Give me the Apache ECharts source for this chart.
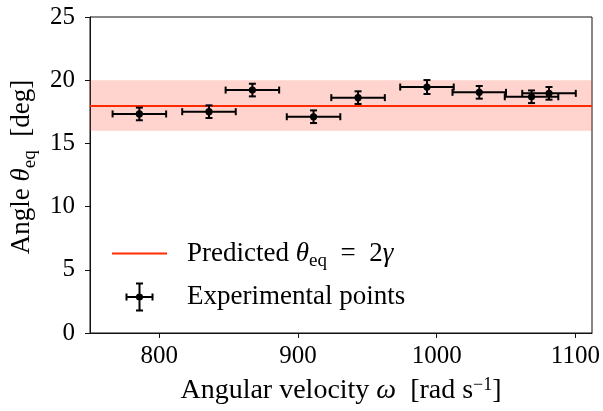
<!DOCTYPE html>
<html>
<head>
<meta charset="utf-8">
<script src="https://cdn.jsdelivr.net/npm/echarts@6/dist/echarts.min.js"></script>
<style>
  html, body { margin: 0; padding: 0; background: #fff; }
  #chart { width: 603px; height: 411px; }
</style>
</head>
<body>
<div id="chart"></div>
<script>
// ---- data ----
const omega    = [785.6, 835.8, 867.1, 911.2, 943.3, 993.0, 1030.7, 1068.4, 1081.0];
const omegaErr = [19.3, 19.3, 19.3, 19.3, 19.3, 19.3, 19.3, 19.3, 19.3];
const theta    = [17.33, 17.51, 19.22, 17.11, 18.62, 19.46, 19.04, 18.69, 18.96];
const thetaErr = [0.5, 0.5, 0.5, 0.5, 0.5, 0.55, 0.5, 0.5, 0.5];
const predictedTheta = 18;
const predictedBand = [16, 20];
const xTicks = [800, 900, 1000, 1100];
const yTicks = [0, 5, 10, 15, 20, 25];
const xRange = [750, 1112];
const yRange = [0, 25];

const FONT = 'Liberation Serif';
const RED = '#ff2a00';

const points = omega.map((w, i) => [w, theta[i], omegaErr[i], thetaErr[i]]);

const crossIcon = 'path://M0,13.5H28V15.5H0Z M0,11H2V18H0Z M26,11H28V18H26Z M13,0H15V29H13Z M10.5,0H17.5V2H10.5Z M10.5,27H17.5V29H10.5Z M17.6,14.5A3.6,3.6,0,1,1,10.4,14.5A3.6,3.6,0,1,1,17.6,14.5Z';
const lineIcon = 'path://M0,0H55V2H0Z';

const chart = echarts.init(document.getElementById('chart'), null, { renderer: 'canvas' });

function makeRich(size) {
  return {
    t: { fontFamily: FONT, fontSize: size, color: '#000', lineHeight: 34, verticalAlign: 'middle' },
    i: { fontFamily: FONT, fontSize: size, color: '#000', fontStyle: 'italic', lineHeight: 34, verticalAlign: 'middle' },
    sub: { fontFamily: FONT, fontSize: Math.round(size * 0.7), color: '#000', lineHeight: 19, verticalAlign: 'bottom' },
    sup: { fontFamily: FONT, fontSize: Math.round(size * 0.63), color: '#000', lineHeight: 17, verticalAlign: 'top', padding: [2, 0, 0, 0] },
    gap: { width: 15 }
  };
}

chart.setOption({
  animation: false,
  backgroundColor: '#fff',
  grid: { left: 90, right: 11, top: 17, bottom: 78, containLabel: false, outerBoundsMode: 'none', show: true, borderColor: '#111', borderWidth: 1, backgroundColor: 'transparent' },
  xAxis: {
    type: 'value',
    min: xRange[0], max: xRange[1],
    name: '{t|Angular velocity }{i|ω}{t|  [rad s}{sup|−1}{t|]}',
    nameLocation: 'middle',
    nameGap: 35,
    nameTextStyle: { rich: makeRich(28) },
    axisLine: { show: true, lineStyle: { color: '#111', width: 1 } },
    axisTick: { show: true, length: 5, inside: false, customValues: xTicks, lineStyle: { color: '#111', width: 1 } },
    axisLabel: { customValues: xTicks, formatter: v => String(v), fontFamily: FONT, fontSize: 25, color: '#000', margin: 11 },
    splitLine: { show: false }
  },
  yAxis: {
    type: 'value',
    min: yRange[0], max: yRange[1], interval: 5,
    name: '{t|Angle }{i|θ}{sub|eq}{t|  [deg]}',
    nameLocation: 'middle',
    nameRotate: 90,
    nameGap: 50,
    nameTextStyle: { rich: makeRich(27), padding: [0, 0, 0, 16] },
    axisLine: { show: true, lineStyle: { color: '#111', width: 1 } },
    axisTick: { show: true, length: 5, inside: false, lineStyle: { color: '#111', width: 1 } },
    axisLabel: { formatter: v => String(v), fontFamily: FONT, fontSize: 25, color: '#000', margin: 15 },
    splitLine: { show: false }
  },
  legend: {
    orient: 'vertical',
    left: 112,
    top: 240,
    itemWidth: 55,
    itemHeight: 29,
    itemGap: 12,
    padding: 0,
    data: [
      { name: 'Predicted', icon: lineIcon, itemStyle: { color: RED } },
      { name: 'Experimental points', icon: crossIcon, itemStyle: { color: '#000' } }
    ],
    formatter: function (name) {
      if (name === 'Predicted') return '{gap|}{t|Predicted }{i|θ}{sub|eq}{t|  =  2}{i|γ}';
      return '{gap|}{t|Experimental points}';
    },
    textStyle: { rich: makeRich(27) }
  },
  series: [
    {
      name: 'Predicted',
      type: 'line',
      data: [],
      itemStyle: { color: RED },
      lineStyle: { color: RED, width: 2 },
      z: 2,
      markArea: {
        silent: true,
        itemStyle: { color: 'rgba(255,60,30,0.22)' },
        data: [[{ yAxis: predictedBand[0] }, { yAxis: predictedBand[1] }]]
      },
      markLine: {
        silent: true,
        symbol: 'none',
        label: { show: false },
        lineStyle: { color: RED, width: 2, type: 'solid' },
        data: [{ yAxis: predictedTheta }]
      }
    },
    {
      name: 'Experimental points',
      type: 'custom',
      z: 5,
      itemStyle: { color: '#000' },
      encode: { x: 0, y: 1 },
      data: points,
      renderItem: function (params, api) {
        const x = api.value(0), y = api.value(1), xe = api.value(2), ye = api.value(3);
        const c = api.coord([x, y]);
        const l = api.coord([x - xe, y]);
        const r = api.coord([x + xe, y]);
        const t = api.coord([x, y + ye]);
        const b = api.coord([x, y - ye]);
        const cap = 3.5;
        const st = { stroke: '#000', lineWidth: 2 };
        return {
          type: 'group',
          children: [
            { type: 'line', shape: { x1: l[0], y1: l[1], x2: r[0], y2: r[1] }, style: st },
            { type: 'line', shape: { x1: l[0], y1: l[1] - cap, x2: l[0], y2: l[1] + cap }, style: st },
            { type: 'line', shape: { x1: r[0], y1: r[1] - cap, x2: r[0], y2: r[1] + cap }, style: st },
            { type: 'line', shape: { x1: t[0], y1: t[1], x2: b[0], y2: b[1] }, style: st },
            { type: 'line', shape: { x1: t[0] - cap, y1: t[1], x2: t[0] + cap, y2: t[1] }, style: st },
            { type: 'line', shape: { x1: b[0] - cap, y1: b[1], x2: b[0] + cap, y2: b[1] }, style: st },
            { type: 'circle', shape: { cx: c[0], cy: c[1], r: 3.6 }, style: { fill: '#000' } }
          ]
        };
      }
    }
  ]
});
</script>
</body>
</html>
